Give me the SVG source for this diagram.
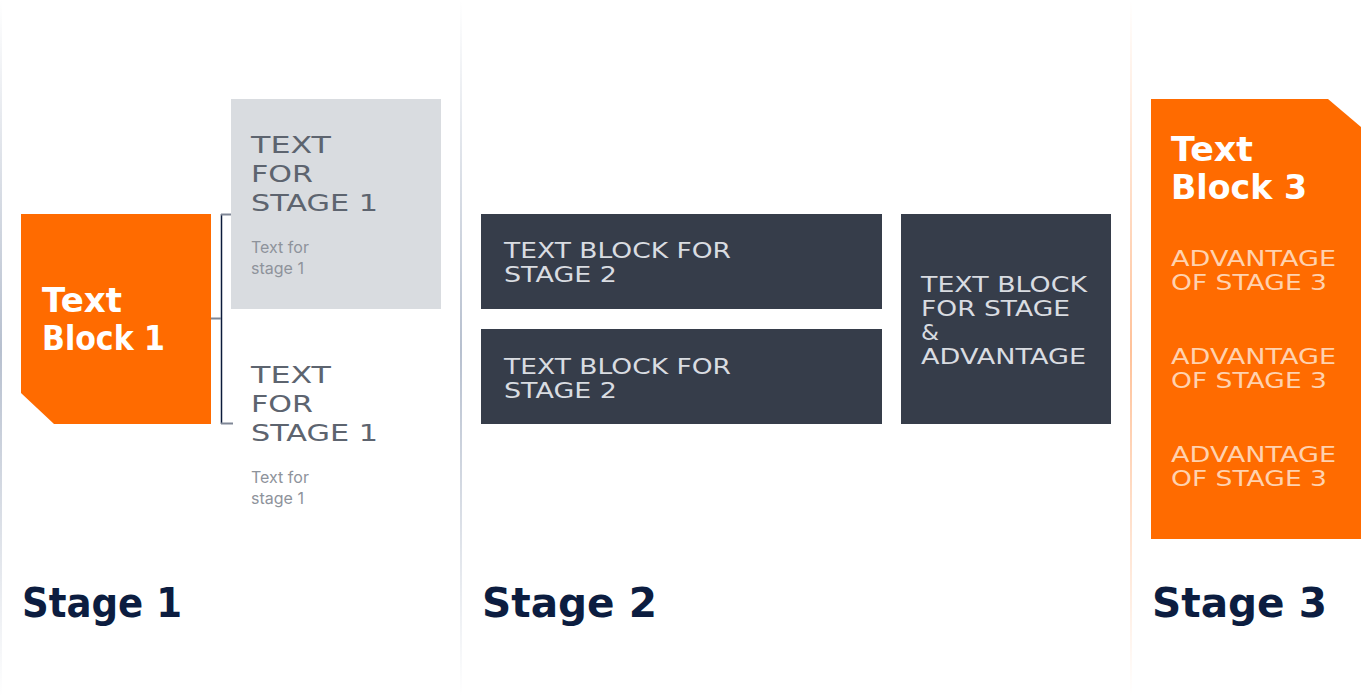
<svg xmlns="http://www.w3.org/2000/svg" width="1363" height="697" viewBox="0 0 1363 697">
  <defs>
    <linearGradient id="sepGrey" x1="0" y1="0" x2="0" y2="1">
      <stop offset="0" stop-color="#b7c0cf" stop-opacity="0"/>
      <stop offset="0.5" stop-color="#b7c0cf" stop-opacity="1"/>
      <stop offset="1" stop-color="#b7c0cf" stop-opacity="0"/>
    </linearGradient>
    <linearGradient id="sepOrange" x1="0" y1="0" x2="0" y2="1">
      <stop offset="0" stop-color="#ffc29a" stop-opacity="0"/>
      <stop offset="0.5" stop-color="#ffc29a" stop-opacity="1"/>
      <stop offset="1" stop-color="#ffc29a" stop-opacity="0"/>
    </linearGradient>
  </defs>
  <style>
    .wide { font-family: "DejaVu Sans", "Liberation Sans", sans-serif; }
    .title { font-family: "DejaVu Sans", "Liberation Sans", sans-serif; font-weight: bold; }
    .small { font-family: Inter, "Liberation Sans", sans-serif; font-size: 16px; fill: #8e939b; }
    .s1big { font-size: 23px; fill: #5d646f; }
    .boxtxt { font-size: 21px; fill: #d9dce1; }
    .adv { font-size: 21px; fill: #ffd2af; }
    .blk { font-size: 33px; fill: #ffffff; }
    .stage { font-size: 41px; fill: #0c1d40; }
    .orange { fill: #ff6b00; }
    .dark { fill: #363d4a; }
    .grey { fill: #d9dce0; }
  </style>

  <rect x="0" y="0" width="1363" height="697" fill="#ffffff"/>

  <g id="separators">
    <rect x="0" y="0" width="2" height="697" fill="url(#sepGrey)"/>
    <rect x="460" y="0" width="2" height="697" fill="url(#sepGrey)"/>
    <rect x="1130" y="0" width="2" height="697" fill="url(#sepOrange)"/>
  </g>

  <g id="connectors">
    <line x1="221.5" y1="214" x2="221.5" y2="424" stroke="#0b1a3a" stroke-width="1.5"/>
    <line x1="221" y1="214.5" x2="232" y2="214.5" stroke="#7f8796" stroke-width="2"/>
    <line x1="211" y1="318.5" x2="221" y2="318.5" stroke="#7f8796" stroke-width="2"/>
    <line x1="221" y1="423.5" x2="233" y2="423.5" stroke="#7f8796" stroke-width="2"/>
  </g>

  <g id="text-block-1">
    <polygon class="orange" points="21,214 211,214 211,424 54,424 21,393"/>
    <text class="title blk" x="42" y="312" textLength="80" lengthAdjust="spacingAndGlyphs">Text</text>
    <text class="title blk" x="42" y="350" textLength="123" lengthAdjust="spacingAndGlyphs">Block 1</text>
  </g>

  <g id="stage1-item-1">
    <rect class="grey" x="231" y="99" width="210" height="210"/>
    <text class="wide s1big" x="251" y="153" textLength="80" lengthAdjust="spacingAndGlyphs">TEXT</text>
    <text class="wide s1big" x="251" y="182" textLength="62" lengthAdjust="spacingAndGlyphs">FOR</text>
    <text class="wide s1big" x="251" y="211" textLength="127" lengthAdjust="spacingAndGlyphs">STAGE 1</text>
    <text class="small" x="251" y="253">Text for</text>
    <text class="small" x="251" y="274">stage 1</text>
  </g>

  <g id="stage1-item-2">
    <text class="wide s1big" x="251" y="383" textLength="80" lengthAdjust="spacingAndGlyphs">TEXT</text>
    <text class="wide s1big" x="251" y="412" textLength="62" lengthAdjust="spacingAndGlyphs">FOR</text>
    <text class="wide s1big" x="251" y="441" textLength="127" lengthAdjust="spacingAndGlyphs">STAGE 1</text>
    <text class="small" x="251" y="483">Text for</text>
    <text class="small" x="251" y="504">stage 1</text>
  </g>

  <g id="stage2-block-a">
    <rect class="dark" x="481" y="214" width="401" height="95"/>
    <text class="wide boxtxt" x="504" y="258" textLength="227" lengthAdjust="spacingAndGlyphs">TEXT BLOCK FOR</text>
    <text class="wide boxtxt" x="504" y="282" textLength="113" lengthAdjust="spacingAndGlyphs">STAGE 2</text>
  </g>

  <g id="stage2-block-b">
    <rect class="dark" x="481" y="329" width="401" height="95"/>
    <text class="wide boxtxt" x="504" y="374" textLength="227" lengthAdjust="spacingAndGlyphs">TEXT BLOCK FOR</text>
    <text class="wide boxtxt" x="504" y="398" textLength="113" lengthAdjust="spacingAndGlyphs">STAGE 2</text>
  </g>

  <g id="stage2-block-c">
    <rect class="dark" x="901" y="214" width="210" height="210"/>
    <text class="wide boxtxt" x="921" y="292" textLength="166" lengthAdjust="spacingAndGlyphs">TEXT BLOCK</text>
    <text class="wide boxtxt" x="921" y="316" textLength="149" lengthAdjust="spacingAndGlyphs">FOR STAGE</text>
    <text class="wide boxtxt" x="921" y="340" textLength="18" lengthAdjust="spacingAndGlyphs">&amp;</text>
    <text class="wide boxtxt" x="921" y="364" textLength="165" lengthAdjust="spacingAndGlyphs">ADVANTAGE</text>
  </g>

  <g id="text-block-3">
    <polygon class="orange" points="1151,99 1328,99 1361,127 1361,539 1151,539"/>
    <text class="title blk" x="1171" y="161" textLength="82" lengthAdjust="spacingAndGlyphs">Text</text>
    <text class="title blk" x="1171" y="199" textLength="136" lengthAdjust="spacingAndGlyphs">Block 3</text>
    <text class="wide adv" x="1171" y="266" textLength="165" lengthAdjust="spacingAndGlyphs">ADVANTAGE</text>
    <text class="wide adv" x="1171" y="290" textLength="156" lengthAdjust="spacingAndGlyphs">OF STAGE 3</text>
    <text class="wide adv" x="1171" y="364" textLength="165" lengthAdjust="spacingAndGlyphs">ADVANTAGE</text>
    <text class="wide adv" x="1171" y="388" textLength="156" lengthAdjust="spacingAndGlyphs">OF STAGE 3</text>
    <text class="wide adv" x="1171" y="462" textLength="165" lengthAdjust="spacingAndGlyphs">ADVANTAGE</text>
    <text class="wide adv" x="1171" y="486" textLength="156" lengthAdjust="spacingAndGlyphs">OF STAGE 3</text>
  </g>

  <g id="stage-labels">
    <text class="title stage" x="22" y="617" textLength="160" lengthAdjust="spacingAndGlyphs">Stage 1</text>
    <text class="title stage" x="482" y="617" textLength="175" lengthAdjust="spacingAndGlyphs">Stage 2</text>
    <text class="title stage" x="1152" y="617" textLength="175" lengthAdjust="spacingAndGlyphs">Stage 3</text>
  </g>
</svg>
